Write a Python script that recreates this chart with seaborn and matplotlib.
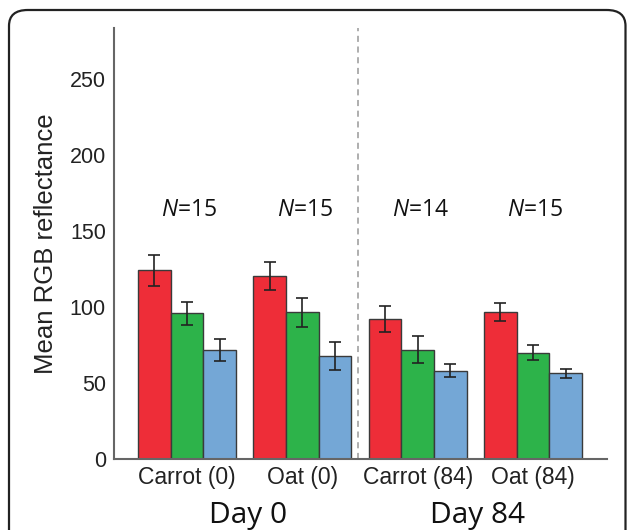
import matplotlib
matplotlib.use("Agg")
import matplotlib.pyplot as plt
from matplotlib.patches import FancyBboxPatch
import seaborn as sns
import pandas as pd

# ---- data ----
categories = ["Carrot (0)", "Oat (0)", "Carrot (84)", "Oat (84)"]
channels = ["R", "G", "B"]
red_mean = [124.3, 120.4, 92.1, 96.5]
green_mean = [95.8, 96.5, 71.9, 69.9]
blue_mean = [71.7, 67.6, 58.1, 56.4]
red_err = [10.2, 9.0, 8.5, 6.0]
green_err = [7.5, 9.5, 8.7, 5.0]
blue_err = [7.2, 9.2, 4.3, 3.1]
n_labels = ["15", "15", "14", "15"]
day_labels = ["Day 0", "Day 84"]
yticks = [0, 50, 100, 150, 200, 250]

colors = {"R": "#EE2D38", "G": "#2DB34A", "B": "#74A7D6"}

df = pd.DataFrame({
    "category": categories * 3,
    "channel": ["R"] * 4 + ["G"] * 4 + ["B"] * 4,
    "value": red_mean + green_mean + blue_mean,
})
errs = {"R": red_err, "G": green_err, "B": blue_err}

sns.set_theme(style="white")
plt.rcParams["font.family"] = ["Liberation Sans", "DejaVu Sans"]
plt.rcParams["mathtext.fontset"] = "custom"
plt.rcParams["mathtext.it"] = "Open Sans:italic"
plt.rcParams["mathtext.rm"] = "Open Sans"

fig = plt.figure(figsize=(6.27, 5.30), dpi=100)
ax = fig.add_axes([0.182, 0.134, 0.786, 0.813])

sns.barplot(data=df, x="category", y="value", hue="channel", order=categories,
            hue_order=channels, palette=colors, width=0.85, errorbar=None,
            edgecolor="#3a3a3a", linewidth=1.0, saturation=1, legend=False, ax=ax)

for cont, ch in zip(ax.containers, channels):
    xs = [p.get_x() + p.get_width() / 2 for p in cont.patches]
    hs = [p.get_height() for p in cont.patches]
    ax.errorbar(xs, hs, yerr=errs[ch], fmt="none", ecolor="#222222",
                elinewidth=1.2, capsize=4, capthick=1.2, zorder=5)

ax.set_xlim(-0.633, 3.642)
ax.set_ylim(0, 283.5)
ax.set_yticks(yticks)
ax.set_yticklabels([str(t) for t in yticks], fontsize=15.5, color="#222222")
ax.set_xticks(range(len(categories)))
ax.set_xticklabels(categories, fontsize=16.5, color="#222222")
ax.tick_params(axis="x", length=0, pad=5)
ax.tick_params(axis="y", length=0, pad=6)
ax.set_xlabel("")
ax.set_ylabel("Mean RGB reflectance", fontsize=18.5, color="#222222", labelpad=8.5)

for s in ["top", "right"]:
    ax.spines[s].set_visible(False)
for s in ["left", "bottom"]:
    ax.spines[s].set_color("#666666")
    ax.spines[s].set_linewidth(1.5)

ax.axvline(1.483, color="#999999", linestyle=(0, (4, 3)), linewidth=1.1, ymin=0, ymax=1)

for i, n in enumerate(n_labels):
    ax.text(i + 0.02, 164, r"$\it{N}$" + "=" + n, ha="center", va="center",
            fontsize=16.5, family="Open Sans", color="#111111")

# day labels
fig.text(248 / 627, 1 - 515 / 530, day_labels[0], ha="center", va="center",
         fontsize=21.5, family="Open Sans", color="#111111")
fig.text(478 / 627, 1 - 515 / 530, day_labels[1], ha="center", va="center",
         fontsize=21.5, family="Open Sans", color="#111111")

# rounded frame
frame = FancyBboxPatch((9 / 627, -0.1), 616.5 / 627, 1 - 10 / 530 + 0.1,
                       boxstyle="round,pad=0,rounding_size=0.03",
                       transform=fig.transFigure, fill=False,
                       edgecolor="#222222", linewidth=1.6, clip_on=False)
fig.patches.append(frame)

fig.savefig("out.png", dpi=100)
